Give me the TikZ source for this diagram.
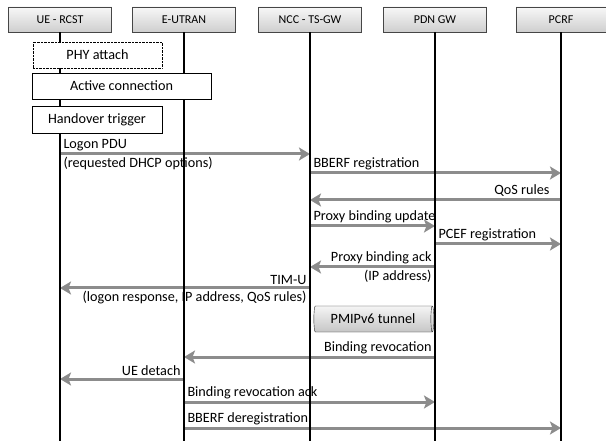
\documentclass[tikz,border=0pt]{standalone}
\usepackage{fontspec}
\setmainfont{Carlito}
\usetikzlibrary{arrows.meta,shapes.geometric}
\definecolor{msggray}{RGB}{140,140,140}
\begin{document}
\begin{tikzpicture}[x=1pt,y=-1pt,font=\fontsize{14.2}{16}\selectfont,
    hdr/.style={draw=gray!55!black,top color=gray!6,bottom color=gray!38,
        minimum width=103,minimum height=25,inner sep=0pt,
        font=\fontsize{12}{14}\selectfont},
    box/.style={draw,thin,fill=white,minimum height=26,inner sep=0pt},
    life/.style={line width=2pt},
    msg/.style={draw=msggray,line width=3pt,
        -{Stealth[length=11pt,width=13pt,inset=2.5pt]}},
    lbl/.style={inner sep=2pt}]
    \def\lane(#1,#2,#3){(#1 |- 0,#3) -- (#2 |- 0,#3)}
    \useasboundingbox (0,0) rectangle (606,441);
    \foreach \n/\t/\x in {ue/UE - RCST/60,eut/E-UTRAN/184,ncc/NCC - TS-GW/310,pdn/PDN GW/435}
        \node[hdr] (\n) at (\x,19.5) {\t};
    \node[hdr,minimum width=90] (pcrf) at (561,19.5) {PCRF};
    %===========================================
    \draw[msg] \lane(ue,ncc,154) node[lbl,pos=0,above right]{Logon PDU}
        node[lbl,pos=0,below right]{(requested DHCP options)};
    \draw[msg] \lane(ncc,pcrf,173) node[lbl,pos=0,above right]{BBERF registration};
    \draw[msg] \lane(pcrf,ncc,200) node[lbl,pos=0,above left,xshift=-8]{QoS rules};
    \draw[msg] \lane(ncc,pdn,226) node[lbl,pos=0,above right]{Proxy binding update};
    \draw[msg] \lane(pdn,pcrf,244) node[lbl,pos=0,above right]{PCEF registration};
    \draw[msg] \lane(pdn,ncc,267) node[lbl,pos=0,above left]{Proxy binding ack}
        node[lbl,pos=0,below left]{(IP address)};
    \draw[msg] \lane(ncc,ue,288) node[lbl,pos=0,above left]{TIM-U}
        node[lbl,pos=0,below left]{(logon response, IP address, QoS rules)};
    \draw[msg] \lane(pdn,eut,357) node[lbl,pos=0,above left]{Binding revocation};
    \draw[msg] \lane(eut,ue,379) node[lbl,pos=0,above left]{UE detach};
    \draw[msg] \lane(eut,pdn,402) node[lbl,pos=0,above right]{Binding revocation ack};
    \draw[msg] \lane(eut,pcrf,428) node[lbl,pos=0,above right]{BBERF deregistration};
    %===========================================
    \foreach \n in {ue,eut,ncc,pdn,pcrf}\draw[life] (\n.south)--(\n |- 0,441);
    \node[box,densely dotted,minimum width=129] (phy) at (97.5,55) {PHY attach};
    \node[box,minimum width=179] (act) at (121.5,86) {Active connection};
    \node[box,minimum width=130,minimum height=27] (ho) at (97,119.5) {Handover trigger};
    \node[cylinder,draw=gray!30!black,top color=gray!8,bottom color=gray!45,
        minimum height=120,minimum width=26,aspect=0.3,inner sep=0pt] (tun) at (373,319) {PMIPv6 tunnel};
\end{tikzpicture}
\end{document}
